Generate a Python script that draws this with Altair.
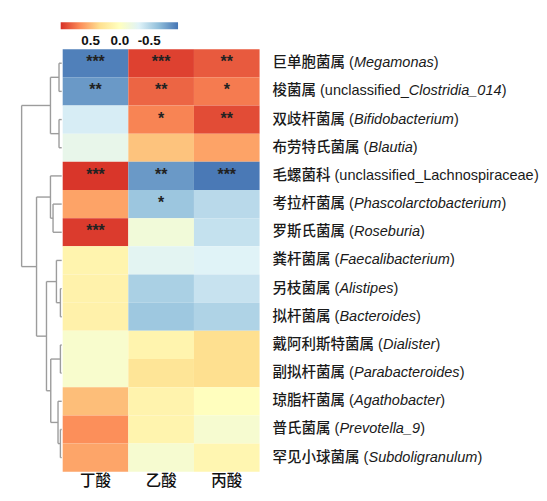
import altair as alt
import pandas as pd

# ---------------- data ----------------
rows_cn = ["巨单胞菌属", "梭菌属", "双歧杆菌属", "布劳特氏菌属", "毛螺菌科", "考拉杆菌属",
           "罗斯氏菌属", "粪杆菌属", "另枝菌属", "拟杆菌属", "戴阿利斯特菌属", "副拟杆菌属",
           "琼脂杆菌属", "普氏菌属", "罕见小球菌属"]
lat_plain = ["", "unclassified_", "", "", "unclassified_Lachnospiraceae", "", "", "", "",
             "", "", "", "", "", ""]
lat_italic = ["Megamonas", "Clostridia_014", "Bifidobacterium", "Blautia", "",
              "Phascolarctobacterium", "Roseburia", "Faecalibacterium", "Alistipes",
              "Bacteroides", "Dialister", "Parabacteroides", "Agathobacter",
              "Prevotella_9", "Subdoligranulum"]
columns = ["丁酸", "乙酸", "丙酸"]

v_ding = [-0.95, -0.84, -0.37, -0.25, 0.98, 0.58, 0.96, 0.12, 0.14, 0.15, -0.08, -0.08, 0.47, 0.66, 0.57]
v_yi   = [0.94, 0.81, 0.70, 0.45, -0.84, -0.62, -0.15, -0.30, -0.56, -0.61, 0.12, 0.28, 0.13, 0.12, -0.10]
v_bing = [0.85, 0.73, 0.90, 0.58, -0.98, -0.50, -0.45, -0.33, -0.44, -0.54, 0.33, 0.33, 0.01, -0.10, 0.10]

s_ding = ["***", "**", "", "", "***", "", "***", "", "", "", "", "", "", "", ""]
s_yi   = ["***", "**", "*", "", "**", "*", "", "", "", "", "", "", "", "", ""]
s_bing = ["**", "*", "**", "", "***", "", "", "", "", "", "", "", "", "", ""]

# dendrogram: (child_a, child_b, merge height); leaves are 0..14, new nodes numbered from 15
merges = [(0, 1, 2.7), (2, 3, 2.7), (15, 16, 11.3), (5, 6, 8.7), (4, 18, 11.3),
          (8, 9, 1.3), (7, 20, 5.3), (10, 11, 1.3), (13, 14, 1.3), (12, 23, 3.7),
          (22, 24, 11.0), (21, 25, 15.3), (19, 26, 25.3), (17, 27, 40.3)]

legend_ticks = [0.5, 0.0, -0.5]
palette = ["#4575b4", "#91bfdb", "#e0f3f8", "#ffffbf", "#fee090", "#fc8d59", "#d73027"]
palette_domain = [-1, -0.667, -0.333, 0, 0.333, 0.667, 1]

# ---------------- tables ----------------
heat_rows = []
for i, r in enumerate(rows_cn):
    for c, vals, sigs in zip(columns, [v_ding, v_yi, v_bing], [s_ding, s_yi, s_bing]):
        heat_rows.append({"row": r, "col": c, "value": vals[i], "sig": sigs[i]})
heat_df = pd.DataFrame(heat_rows)

# dendrogram segments
ypos = {i: i + 0.5 for i in range(len(rows_cn))}
hgt = {i: 0.0 for i in range(len(rows_cn))}
segs = []
nid = len(rows_cn)
for a, b, h in merges:
    segs.append({"x": h, "x2": h, "y": ypos[a], "y2": ypos[b]})
    segs.append({"x": hgt[a], "x2": h, "y": ypos[a], "y2": ypos[a]})
    segs.append({"x": hgt[b], "x2": h, "y": ypos[b], "y2": ypos[b]})
    ypos[nid] = (ypos[a] + ypos[b]) / 2
    hgt[nid] = h
    nid += 1
dendro_df = pd.DataFrame(segs)

# label segments (mixed upright / italic)
FS = 14.6
W_ARIAL = dict(zip("abcdefghijklmnopqrstuvwxyz",
                   [556, 556, 500, 556, 556, 278, 556, 556, 222, 222, 500, 222, 833, 556, 556,
                    556, 556, 333, 500, 278, 556, 500, 722, 500, 500, 500]))
W_ARIAL.update(dict(zip("ABCDEFGHIJKLMNOPQRSTUVWXYZ",
                        [667, 667, 722, 722, 667, 611, 778, 722, 278, 500, 667, 556, 833, 722,
                         778, 667, 778, 722, 667, 611, 722, 667, 944, 667, 667, 611])))
W_ARIAL.update({d: 556 for d in "0123456789"})
W_ARIAL.update({" ": 278, "(": 333, ")": 333, "_": 556})


def text_w(s):
    return sum(FS if ord(ch) > 0x2E80 else W_ARIAL.get(ch, 556) * FS / 1000 for ch in s)


lab_rows = []
for i, cn in enumerate(rows_cn):
    pieces = [(cn + " (" + lat_plain[i], "normal"), (lat_italic[i], "italic"), (")", "normal")]
    x = 13.0
    for t, st in pieces:
        if t:
            lab_rows.append({"row": cn, "x": x, "t": t, "st": st})
            x += text_w(t)
lab_df = pd.DataFrame(lab_rows)

leg_df = pd.DataFrame({"lo": [-1.0], "hi": [1.0]})

# ---------------- charts ----------------
H = 425
DW = 54
HW = 198
LW = 272
FONT = "Liberation Sans, Noto Sans CJK SC"

color_scale = alt.Scale(domain=palette_domain, range=palette, interpolate="rgb")
ysort = rows_cn

dendro = alt.Chart(dendro_df).mark_rule(color="#9c9c9c", strokeWidth=1.4).encode(
    x=alt.X("x:Q", scale=alt.Scale(domain=[DW, 0], nice=False), axis=None),
    x2="x2:Q",
    y=alt.Y("y:Q", scale=alt.Scale(domain=[15, 0], nice=False), axis=None),
    y2="y2:Q",
).properties(width=DW, height=H)

base = alt.Chart(heat_df).encode(
    x=alt.X("col:N", sort=columns, title=None,
            scale=alt.Scale(paddingInner=0, paddingOuter=0),
            axis=alt.Axis(orient="bottom", labelAngle=0, ticks=False, domain=False,
                          labelPadding=2, labelFontSize=15.5, labelFont="Noto Sans CJK SC",
                          labelFontWeight=500, labelColor="#111111")),
    y=alt.Y("row:N", sort=ysort, title=None,
            scale=alt.Scale(paddingInner=0, paddingOuter=0), axis=None),
)
cells = base.mark_rect().encode(color=alt.Color("value:Q", scale=color_scale, legend=None))
stars = base.mark_text(fontSize=16, font="Liberation Sans", fontWeight="bold",
                       color="#222222", baseline="middle", dy=-1).encode(text="sig:N")
heat = alt.layer(cells, stars).properties(width=HW, height=H)

lab_base = alt.Chart(lab_df).encode(
    x=alt.X("x:Q", scale=alt.Scale(domain=[0, LW], nice=False, zero=False), axis=None),
    y=alt.Y("row:N", sort=ysort, scale=alt.Scale(paddingInner=0, paddingOuter=0), axis=None),
    text="t:N",
)
lab_n = lab_base.transform_filter(alt.datum.st == "normal").mark_text(
    align="left", baseline="middle", fontSize=FS, font=FONT, fontWeight=500, color="#1a1a1a")
lab_i = lab_base.transform_filter(alt.datum.st == "italic").mark_text(
    align="left", baseline="middle", fontSize=FS, font=FONT, fontWeight=500,
    fontStyle="italic", color="#1a1a1a")
labels = alt.layer(lab_n, lab_i).properties(width=LW, height=H)

spacer = alt.Chart(leg_df).mark_rect(opacity=0).properties(width=53, height=7)

grad = alt.Gradient(
    gradient="linear",
    stops=[alt.GradientStop(color=c, offset=o) for c, o in
           zip(palette[::-1], [0, 1 / 6, 2 / 6, 3 / 6, 4 / 6, 5 / 6, 1])],
    x1=0, x2=1, y1=0, y2=0,
)
legend = alt.Chart(leg_df).mark_rect(color=grad).encode(
    x=alt.X("lo:Q", scale=alt.Scale(domain=[-1, 1], reverse=True, nice=False), title=None,
            axis=alt.Axis(values=legend_ticks, ticks=False, domain=False, grid=False,
                          labelFontSize=13.5, labelFontWeight="bold", labelColor="#111111",
                          labelFont="Liberation Sans", labelPadding=4,
                          labelExpr="(datum.value < 0 ? '-' : '') + format(abs(datum.value), '.1f')")),
    x2="hi:Q",
).properties(width=118, height=7)

top = alt.hconcat(spacer, legend, spacing=0)
bottom = alt.hconcat(dendro, heat, labels, spacing=0)

chart = alt.vconcat(top, bottom, spacing=2).properties(
    padding={"left": 0, "top": 13, "right": 0, "bottom": 0}
).configure_view(stroke=None)

chart.save("out.html", embed_options={"renderer": "svg", "actions": False})
